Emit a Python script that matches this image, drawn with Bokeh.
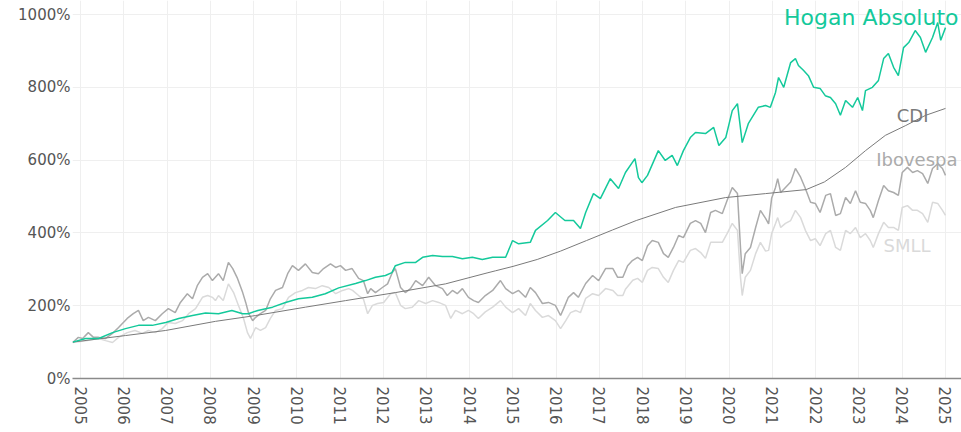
import math
from bokeh.plotting import figure
from bokeh.models import FixedTicker, PrintfTickFormatter, Range1d, Label
from bokeh.embed import file_html
from bokeh.resources import INLINE

# ---------------- data (decimal year, cumulative % ) ----------------
hogan_x = [2004.82, 2005.12, 2005.42, 2005.74, 2006.04, 2006.34, 2006.66, 2006.97, 2007.27, 2007.59,
           2007.89, 2008.19, 2008.50, 2008.75, 2008.88, 2009.10, 2009.44, 2009.74, 2010.04, 2010.36,
           2010.66, 2010.97, 2011.36, 2011.59, 2011.82, 2012.05, 2012.20, 2012.28, 2012.51, 2012.75,
           2012.91, 2013.14, 2013.37, 2013.60, 2013.83, 2014.06, 2014.29, 2014.53, 2014.83, 2014.99,
           2015.13, 2015.40, 2015.52, 2015.80, 2015.98, 2016.20, 2016.40, 2016.56, 2016.68, 2016.86,
           2017.02, 2017.25, 2017.44, 2017.60, 2017.82, 2017.90, 2017.98, 2018.11, 2018.36, 2018.52,
           2018.68, 2018.80, 2018.94, 2019.10, 2019.22, 2019.45, 2019.64, 2019.76, 2019.92, 2020.07,
           2020.19, 2020.30, 2020.44, 2020.67, 2020.84, 2020.95, 2021.07, 2021.14, 2021.26, 2021.42,
           2021.53, 2021.60, 2021.72, 2021.83, 2021.95, 2022.10, 2022.22, 2022.34, 2022.46, 2022.57,
           2022.69, 2022.85, 2022.97, 2023.08, 2023.15, 2023.31, 2023.45, 2023.57, 2023.68, 2023.80,
           2023.91, 2024.03, 2024.15, 2024.30, 2024.42, 2024.54, 2024.70, 2024.82, 2024.89, 2025.00]
hogan_y = [100, 110, 110, 126, 137, 146, 146, 154, 165, 173,
           180, 178, 187, 178, 178, 187, 196, 209, 219, 223,
           233, 249, 261, 269, 278, 283, 291, 310, 319, 319,
           333, 338, 335, 335, 329, 333, 327, 333, 333, 379,
           370, 374, 407, 434, 456, 434, 434, 412, 456, 508,
           494, 549, 522, 566, 604, 552, 538, 558, 626, 599,
           613, 585, 626, 662, 676, 673, 690, 640, 662, 736,
           755, 648, 700, 745, 750, 745, 786, 827, 800, 868,
           879, 860, 846, 832, 800, 797, 777, 772, 755, 723,
           764, 745, 772, 736, 791, 800, 819, 879, 893, 855,
           832, 909, 923, 956, 937, 896, 937, 978, 929, 964]

cdi_x = [2004.82, 2006.04, 2006.97, 2008.12, 2009.05, 2010.20, 2011.13, 2012.28, 2013.44, 2014.40,
         2014.60, 2015.00, 2015.56, 2016.10, 2016.70, 2017.30, 2017.85, 2018.76, 2019.91, 2020.84,
         2021.78, 2022.20, 2022.69, 2023.15, 2023.61, 2024.08, 2024.54, 2025.00]
cdi_y = [100, 118, 132, 157, 173, 196, 214, 236, 260, 290,
         296, 308, 327, 350, 379, 408, 434, 470, 497, 508,
         519, 540, 580, 626, 668, 695, 723, 742]

ibov_x = [2004.82, 2004.95, 2005.05, 2005.18, 2005.30, 2005.42, 2005.58, 2005.74, 2005.88, 2006.08,
          2006.22, 2006.34, 2006.45, 2006.57, 2006.73, 2006.89, 2007.03, 2007.19, 2007.31, 2007.47,
          2007.59, 2007.70, 2007.82, 2007.94, 2008.05, 2008.19, 2008.30, 2008.42, 2008.52, 2008.63,
          2008.75, 2008.82, 2008.89, 2008.98, 2009.05, 2009.16, 2009.28, 2009.39, 2009.51, 2009.67,
          2009.79, 2009.90, 2010.04, 2010.20, 2010.36, 2010.50, 2010.62, 2010.78, 2010.90, 2011.01,
          2011.13, 2011.28, 2011.43, 2011.54, 2011.64, 2011.71, 2011.82, 2011.98, 2012.10, 2012.21,
          2012.28, 2012.40, 2012.51, 2012.63, 2012.75, 2012.91, 2013.05, 2013.21, 2013.37, 2013.48,
          2013.60, 2013.71, 2013.83, 2013.97, 2014.09, 2014.20, 2014.36, 2014.53, 2014.71, 2014.83,
          2014.99, 2015.13, 2015.29, 2015.40, 2015.52, 2015.68, 2015.82, 2015.98, 2016.10, 2016.17,
          2016.28, 2016.40, 2016.51, 2016.68, 2016.84, 2016.98, 2017.14, 2017.31, 2017.42, 2017.54,
          2017.65, 2017.76, 2017.88, 2017.99, 2018.11, 2018.22, 2018.36, 2018.48, 2018.59, 2018.71,
          2018.83, 2018.94, 2019.10, 2019.22, 2019.34, 2019.45, 2019.57, 2019.68, 2019.84, 2019.95,
          2020.07, 2020.19, 2020.26, 2020.30, 2020.37, 2020.49, 2020.61, 2020.72, 2020.84, 2020.91,
          2020.98, 2021.07, 2021.12, 2021.19, 2021.30, 2021.42, 2021.53, 2021.65, 2021.76, 2021.88,
          2021.99, 2022.10, 2022.23, 2022.34, 2022.46, 2022.57, 2022.69, 2022.80, 2022.92, 2023.03,
          2023.15, 2023.26, 2023.33, 2023.45, 2023.57, 2023.68, 2023.80, 2023.91, 2024.00, 2024.12,
          2024.24, 2024.35, 2024.47, 2024.59, 2024.70, 2024.82, 2024.93, 2025.00]
ibov_y = [99, 113, 110, 126, 113, 113, 110, 124, 140, 165,
          178, 187, 159, 168, 159, 178, 192, 181, 209, 233,
          219, 255, 278, 288, 269, 288, 269, 319, 302, 275,
          236, 209, 178, 159, 168, 178, 187, 219, 242, 250,
          288, 310, 297, 315, 291, 288, 302, 315, 305, 310,
          297, 302, 275, 269, 233, 247, 236, 250, 260, 291,
          302, 250, 236, 247, 269, 255, 278, 255, 247, 228,
          242, 233, 247, 223, 214, 209, 228, 242, 269, 247,
          233, 242, 223, 250, 236, 206, 209, 201, 173, 192,
          223, 236, 223, 261, 283, 269, 302, 302, 278, 278,
          310, 324, 333, 324, 365, 379, 374, 343, 333, 360,
          393, 387, 426, 434, 426, 401, 456, 462, 453, 489,
          525, 508, 360, 288, 343, 360, 415, 462, 440, 425,
          495, 525, 549, 511, 525, 540, 577, 553, 522, 484,
          481, 456, 503, 508, 448, 453, 497, 481, 516, 484,
          481, 462, 442, 489, 530, 516, 511, 503, 566, 580,
          566, 571, 563, 536, 577, 590, 577, 558]

smll_x = [2004.82, 2005.12, 2005.42, 2005.58, 2005.74, 2005.88, 2006.08, 2006.26, 2006.43, 2006.57,
          2006.73, 2006.89, 2007.03, 2007.19, 2007.36, 2007.50, 2007.66, 2007.82, 2007.94, 2008.05,
          2008.12, 2008.19, 2008.30, 2008.42, 2008.54, 2008.65, 2008.77, 2008.86, 2008.93, 2009.05,
          2009.16, 2009.28, 2009.39, 2009.51, 2009.67, 2009.81, 2009.97, 2010.13, 2010.27, 2010.43,
          2010.59, 2010.74, 2010.90, 2011.06, 2011.20, 2011.29, 2011.43, 2011.54, 2011.64, 2011.75,
          2011.87, 2012.01, 2012.17, 2012.28, 2012.40, 2012.51, 2012.67, 2012.82, 2012.98, 2013.14,
          2013.28, 2013.44, 2013.56, 2013.67, 2013.83, 2013.97, 2014.09, 2014.20, 2014.36, 2014.53,
          2014.71, 2014.83, 2014.99, 2015.13, 2015.29, 2015.40, 2015.52, 2015.68, 2015.82, 2015.98,
          2016.10, 2016.22, 2016.33, 2016.45, 2016.56, 2016.68, 2016.84, 2016.98, 2017.14, 2017.31,
          2017.42, 2017.54, 2017.60, 2017.77, 2017.88, 2017.99, 2018.11, 2018.22, 2018.36, 2018.48,
          2018.59, 2018.71, 2018.83, 2018.94, 2019.10, 2019.22, 2019.34, 2019.45, 2019.57, 2019.68,
          2019.84, 2019.95, 2020.07, 2020.19, 2020.26, 2020.30, 2020.37, 2020.49, 2020.61, 2020.72,
          2020.84, 2020.91, 2020.98, 2021.07, 2021.12, 2021.19, 2021.30, 2021.42, 2021.53, 2021.65,
          2021.76, 2021.88, 2021.99, 2022.10, 2022.23, 2022.34, 2022.46, 2022.57, 2022.69, 2022.80,
          2022.92, 2023.03, 2023.15, 2023.26, 2023.33, 2023.45, 2023.57, 2023.68, 2023.80, 2023.91,
          2024.00, 2024.12, 2024.24, 2024.35, 2024.47, 2024.59, 2024.70, 2024.82, 2024.93, 2025.00]
smll_y = [99, 104, 110, 104, 99, 113, 126, 132, 124, 132,
          126, 137, 154, 151, 159, 178, 192, 223, 228, 223,
          214, 228, 214, 260, 236, 201, 165, 126, 110, 140,
          132, 140, 165, 187, 192, 223, 236, 242, 250, 247,
          255, 250, 233, 242, 247, 242, 228, 219, 178, 201,
          206, 209, 233, 236, 201, 192, 196, 214, 206, 214,
          209, 201, 165, 187, 178, 187, 178, 165, 183, 196,
          214, 196, 181, 192, 173, 206, 187, 168, 173, 159,
          137, 159, 181, 187, 181, 220, 233, 228, 247, 242,
          228, 228, 245, 270, 275, 264, 297, 305, 302, 278,
          264, 297, 324, 319, 352, 357, 346, 330, 374, 374,
          374, 398, 426, 407, 278, 228, 278, 297, 343, 374,
          350, 352, 398, 426, 442, 415, 426, 434, 462, 442,
          407, 379, 384, 365, 398, 407, 360, 352, 407, 398,
          415, 387, 398, 379, 360, 398, 429, 415, 415, 407,
          470, 475, 462, 462, 453, 429, 484, 481, 462, 448]

year_ticks = list(range(2005, 2026))
pct_ticks = [0, 200, 400, 600, 800, 1000]

GREEN = "#14c99b"
C_IBOV = "#ababab"
C_SMLL = "#dadada"
C_CDI = "#7a7a7a"
FONT = "DejaVu Sans"

p = figure(width=961, height=432, output_backend="svg", toolbar_location=None,
           x_range=Range1d(2004.815, 2025.37), y_range=Range1d(0, 1038.5),
           min_border_left=72, min_border_right=0, min_border_top=0, min_border_bottom=54)
p.outline_line_color = None
p.background_fill_color = "white"
p.border_fill_color = "white"

# axes
p.xaxis.ticker = FixedTicker(ticks=year_ticks)
p.yaxis.ticker = FixedTicker(ticks=pct_ticks)
p.yaxis.formatter = PrintfTickFormatter(format="%d%%")
for ax in (p.xaxis[0], p.yaxis[0]):
    ax.major_tick_line_color = None
    ax.minor_tick_line_color = None
    ax.major_tick_out = 0
    ax.major_tick_in = 0
    ax.minor_tick_out = 0
    ax.major_label_text_font = FONT
    ax.major_label_text_font_size = "15px"
    ax.major_label_text_color = "#555555"
p.yaxis.axis_line_color = None
p.yaxis.major_label_standoff = 2
p.xaxis.axis_line_color = "#8a8a8a"
p.xaxis.axis_line_width = 1.5
p.xaxis.major_label_orientation = -math.pi / 2
p.xaxis.major_label_standoff = 8

p.xgrid.ticker = FixedTicker(ticks=year_ticks)
p.ygrid.ticker = FixedTicker(ticks=pct_ticks)
p.grid.grid_line_color = "#efefef"
p.grid.grid_line_width = 1

# series
p.line(smll_x, smll_y, line_color=C_SMLL, line_width=1.5)
p.line(ibov_x, ibov_y, line_color=C_IBOV, line_width=1.5)
p.line(cdi_x, cdi_y, line_color=C_CDI, line_width=1)
p.line(hogan_x, hogan_y, line_color=GREEN, line_width=1.5)

# end labels, anchored on each series' last point
def end_label(text, xs, ys, color, size, dx, dy):
    p.add_layout(Label(x=xs[-1], y=ys[-1], text=text, x_offset=dx, y_offset=dy,
                       text_align="right", text_baseline="middle",
                       text_color=color, text_font=FONT, text_font_size=size))

end_label("Hogan Absoluto", hogan_x, hogan_y, GREEN, "22px", 13, 10)
end_label("CDI", cdi_x, cdi_y, C_CDI, "18px", -17, -7)
end_label("Ibovespa", ibov_x, ibov_y, C_IBOV, "18px", 12, 16)
end_label("SMLL", smll_x, smll_y, C_SMLL, "18px", -15, -30)

open("out.html", "w").write(file_html(p, INLINE))
